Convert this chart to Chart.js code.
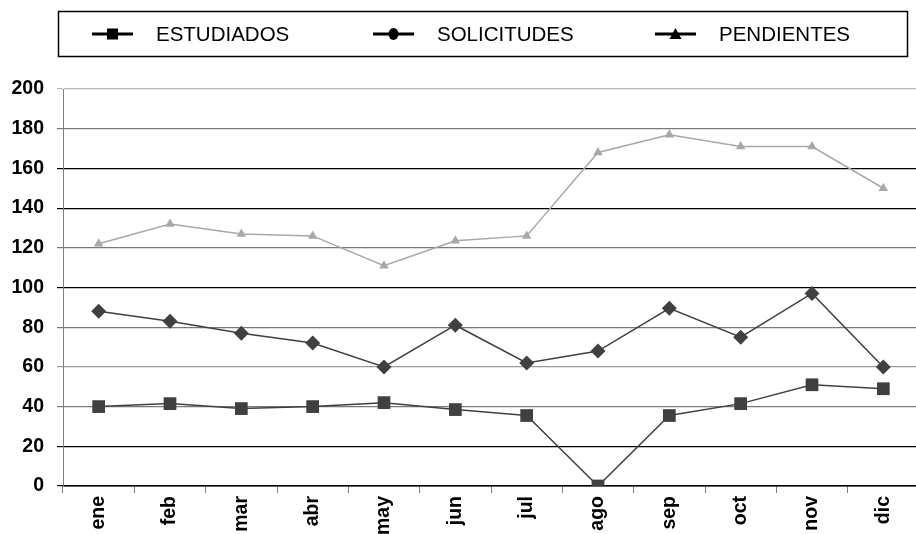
<!DOCTYPE html>
<html>
<head>
<meta charset="utf-8">
<script src="https://cdn.jsdelivr.net/npm/chart.js@4/dist/chart.umd.min.js"></script>
<style>
  html, body { margin: 0; padding: 0; background: #fff; overflow: hidden; }
  #clip { width: 916px; height: 534px; overflow: hidden; position: relative; }
  /* canvas a little wider than the window so the plot runs past the right edge */
  #wrap { width: 928px; height: 534px; position: relative; }
</style>
</head>
<body>
<div id="clip"><div id="wrap"><canvas id="chart"></canvas></div></div>
<script>
// data
const months = ['ene', 'feb', 'mar', 'abr', 'may', 'jun', 'jul', 'ago', 'sep', 'oct', 'nov', 'dic'];
const estudiados = [40, 41.5, 39, 40, 42, 38.5, 35.5, 0, 35.5, 41.5, 51, 49];
const solicitudes = [88, 83, 77, 72, 60, 81, 62, 68, 89.5, 75, 97, 60];
const pendientes = [122, 132, 127, 126, 111, 123.5, 126, 168, 177, 171, 171, 150];
const yTicks = [0, 20, 40, 60, 80, 100, 120, 140, 160, 180, 200];

// gridline shades in the scan alternate a bit, keep them per tick
const gridShades = ['#000', '#000', '#7a7a7a', '#9a9a9a', '#7a7a7a', '#000', '#7a7a7a', '#000', '#000', '#7a7a7a', '#b5b5b5'];

const FONT = "'Liberation Sans', Arial, Helvetica, sans-serif";

// legend drawn by hand: framed box, black line with marker + label
const boxLegend = {
  id: 'boxLegend',
  afterDraw(chart) {
    const ctx = chart.ctx;
    ctx.save();
    ctx.strokeStyle = '#000';
    ctx.lineWidth = 1.5;
    ctx.strokeRect(58.5, 11.5, 849, 45);
    const items = [
      { x: 92, label: 'ESTUDIADOS', style: 'rect' },
      { x: 373, label: 'SOLICITUDES', style: 'circle' },
      { x: 655, label: 'PENDIENTES', style: 'triangle' }
    ];
    const y = 34;
    items.forEach(it => {
      ctx.strokeStyle = '#000';
      ctx.lineWidth = 3;
      ctx.beginPath();
      ctx.moveTo(it.x, y);
      ctx.lineTo(it.x + 41, y);
      ctx.stroke();
      ctx.fillStyle = '#000';
      const cx = it.x + 20.5;
      ctx.beginPath();
      if (it.style === 'rect') {
        ctx.rect(cx - 5.5, y - 5.5, 11, 11);
      } else if (it.style === 'circle') {
        ctx.ellipse(cx, y, 5, 6, 0, 0, Math.PI * 2);
      } else {
        ctx.moveTo(cx - 6, y + 5);
        ctx.lineTo(cx, y - 6);
        ctx.lineTo(cx + 6, y + 5);
        ctx.closePath();
      }
      ctx.fill();
      ctx.font = '20.5px ' + FONT;
      ctx.textBaseline = 'middle';
      ctx.fillText(it.label, it.x + 64, y + 1);
    });
    ctx.restore();
  }
};

new Chart(document.getElementById('chart'), {
  type: 'line',
  data: {
    labels: months,
    datasets: [
      {
        label: 'ESTUDIADOS',
        data: estudiados,
        borderColor: '#404040',
        backgroundColor: '#404040',
        borderWidth: 1.5,
        pointStyle: 'rect',
        pointRadius: 9,
        pointBorderWidth: 0,
        tension: 0
      },
      {
        label: 'SOLICITUDES',
        data: solicitudes,
        borderColor: '#404040',
        backgroundColor: '#404040',
        borderWidth: 1.5,
        pointStyle: 'rectRot',
        pointRadius: 7.5,
        pointBorderWidth: 0,
        tension: 0
      },
      {
        label: 'PENDIENTES',
        data: pendientes,
        borderColor: '#a8a8a8',
        backgroundColor: '#a8a8a8',
        borderWidth: 1.5,
        pointStyle: 'triangle',
        pointRadius: 5.5,
        pointBorderWidth: 0,
        tension: 0
      }
    ]
  },
  options: {
    responsive: true,
    maintainAspectRatio: false,
    animation: false,
    layout: { padding: { top: 89, right: 0, left: 0, bottom: 0 } },
    plugins: {
      legend: { display: false },
      tooltip: { enabled: false }
    },
    scales: {
      x: {
        offset: true,
        afterFit(scale) { scale.height = 48; },
        grid: {
          offset: true,
          drawOnChartArea: false,
          drawTicks: true,
          tickLength: 7,
          color: '#808080'
        },
        border: { color: '#000', width: 1.5 },
        ticks: {
          minRotation: 90,
          maxRotation: 90,
          padding: 3,
          color: '#000',
          font: { family: FONT, size: 19.5, weight: 'bold' }
        }
      },
      y: {
        min: 0,
        max: 200,
        afterFit(scale) { scale.width = 63; },
        afterBuildTicks(axis) {
          axis.ticks = yTicks.map(v => ({ value: v }));
        },
        grid: {
          color: ctx => gridShades[ctx.index] || '#000',
          lineWidth: 1.2,
          tickLength: 6
        },
        border: { color: '#808080', width: 1 },
        ticks: {
          padding: 13,
          color: '#000',
          font: { family: FONT, size: 19.5, weight: 'bold' }
        }
      }
    }
  },
  plugins: [boxLegend]
});
</script>
</body>
</html>
